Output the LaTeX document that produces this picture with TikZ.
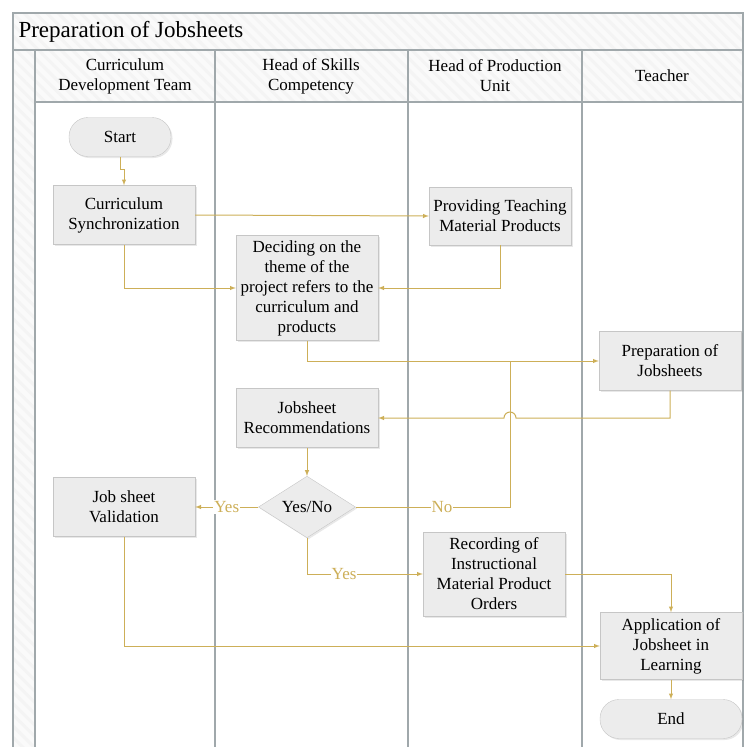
\documentclass[tikz,border=0pt]{standalone}
\usepackage{fontspec}
\setmainfont{Liberation Serif}
\usetikzlibrary{calc,shapes.geometric,shadows,patterns.meta}

\definecolor{flowline}{RGB}{205,175,88}
\definecolor{laneline}{RGB}{160,168,171}
\definecolor{boxfill}{RGB}{236,236,236}
\definecolor{boxline}{RGB}{198,198,198}

\begin{document}
\begin{tikzpicture}[x = 1pt, y = -1pt,
    every node/.style = {font = \fontsize{17}{20}\selectfont},
    hatch/.style = {preaction = {fill = gray!4}, pattern = {Lines[angle=-45, distance=8pt, line width=3pt]}, pattern color = gray!9},
    lane/.style = {draw = laneline, line width = 1.8pt},
    task/.style = {rectangle, draw = boxline, fill = boxfill, align = center, inner sep = 2pt,
      minimum width = 142pt, minimum height = 59pt,
      drop shadow = {opacity = 0.18, shadow xshift = 1.5pt, shadow yshift = -1.5pt}},
    terminal/.style = {task, rounded corners = 19pt, minimum height = 39pt},
    decision/.style = {diamond, draw = boxline, fill = boxfill, inner sep = 0pt,
      minimum width = 97pt, minimum height = 55pt,
      drop shadow = {opacity = 0.18, shadow xshift = 1.5pt, shadow yshift = -1.5pt}},
    flow/.style = {draw = flowline, line width = 1pt, -latex},
    lbl/.style = {text = flowline, fill = white, inner sep = 1pt}]

  \useasboundingbox (0,0) rectangle (753,747);

  % pool and lanes
  \draw [hatch, lane] (13,13) rectangle (743,50);
  \node [anchor = west, font = \fontsize{23}{26}\selectfont] (title) at (15,32) {Preparation of Jobsheets};
  \draw [hatch, lane] (13,50) rectangle (35,760);
  \draw [lane] (35,50) rectangle (743,760);

  \draw [hatch, lane] (35,50) rectangle (215,102);
  \draw [hatch, lane] (215,50) rectangle (408,102);
  \draw [hatch, lane] (408,50) rectangle (582,102);
  \draw [hatch, lane] (582,50) rectangle (743,102);

  \draw [lane] (215,102) -- (215,760);
  \draw [lane] (408,102) -- (408,760);
  \draw [lane] (582,102) -- (582,760);

  \node (h1) at (125,76) [align = center] {Curriculum\\Development Team};
  \node (h2) at (311,76) [align = center] {Head of Skills\\Competency};
  \node (h3) at (495,76) [align = center] {Head of Production\\Unit};
  \node (h4) at (662,76) {Teacher};

  % steps
  \node [terminal, minimum width = 102pt] (start) at (120,137) {Start};
  \node [task] (sync) at (124,215) {Curriculum\\Synchronization};
  \node [task, minimum height = 58pt] (prov) at (500,216) {Providing Teaching\\Material Products};
  \node [task, minimum height = 105pt] (decide) at (307,288) {Deciding on the\\theme of the\\project refers to the\\curriculum and\\products};
  \node [task] (prep) at (670,361) {Preparation of\\Jobsheets};
  \node [task] (recom) at (307,418) {Jobsheet\\Recommendations};
  \node [decision] (dec) at (307,507) {Yes/No};
  \node [task] (valid) at (124,507) {Job sheet\\Validation};
  \node [task, minimum height = 84pt] (record) at (494,574) {Recording of\\Instructional\\Material Product\\Orders};
  \node [task, minimum height = 67pt] (appl) at (671,646) {Application of\\Jobsheet in\\Learning};
  \node [terminal] (endn) at (671,719) {End};

  \coordinate (merge) at (510,361);
  \coordinate (hop) at (510,418);

  % connectors
  \draw [flow] (start.south) -- ++(0,13) -| (sync.north);
  \draw [flow] (sync.east) -- (prov.west);
  \draw [flow] (sync.south) |- (decide.west);
  \draw [flow] (prov.south) |- (decide.east);
  \draw [flow] (decide.south) |- (prep.west);
  \draw [flow] (prep.south) |- ($(hop)+(6pt,0)$) arc [start angle = 0, end angle = 180, radius = 6pt] -- (recom.east);
  \draw [flow] (recom.south) -- (dec.north);
  \draw [flow] (dec.west) -- node [lbl] {Yes} (valid.east);
  \draw [draw = flowline, line width = 1pt] (dec.east) -| node [lbl, pos = 0.28] {No} (merge);
  \draw [flow] (dec.south) |- node [lbl, pos = 0.66] {Yes} (record.west);
  \draw [flow] (record.east) -| (appl.north);
  \draw [flow] (valid.south) |- (appl.west);
  \draw [flow] (appl.south) -- (endn.north);
\end{tikzpicture}
\end{document}
